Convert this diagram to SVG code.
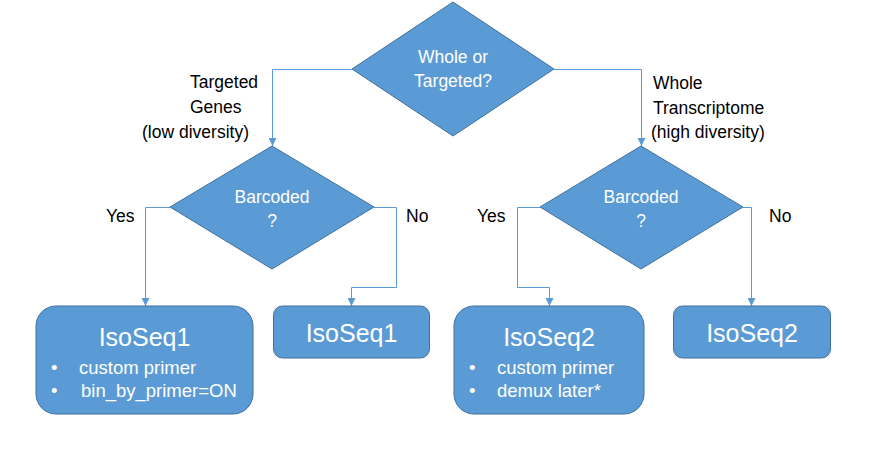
<svg xmlns="http://www.w3.org/2000/svg" width="890" height="449" viewBox="0 0 890 449">
<defs>
<marker id="arr" markerUnits="userSpaceOnUse" markerWidth="8" markerHeight="8" refX="8" refY="4" orient="auto">
<path d="M0,0 L8,4 L0,8 z" fill="#5B9BD5"/>
</marker>
<style>
.shape{fill:#5B9BD5;stroke:#41719C;stroke-width:1}
.wt{fill:#FFFFFF;font-family:"Liberation Sans",Arial,sans-serif;text-anchor:middle}
.dt{font-size:17.5px}
.big{font-size:25px}
.sm{font-size:18.5px;text-anchor:start}
.lbl{fill:#000000;font-family:"Liberation Sans",Arial,sans-serif;font-size:17.5px}
.con{fill:none;stroke:#5B9BD5;stroke-width:1;marker-end:url(#arr)}
</style>
</defs>
<rect width="890" height="449" fill="#FFFFFF"/>
<g id="connectors">
<path class="con" d="M352,69.5 H272.5 V146"/>
<path class="con" d="M554,69.5 H641.5 V146"/>
<path class="con" d="M170,207.5 H145.5 V306"/>
<path class="con" d="M374,207.5 H396.5 V287.5 H351.5 V306"/>
<path class="con" d="M540,207.5 H517.5 V287.5 H549.5 V306"/>
<path class="con" d="M743,207.5 H751.5 V306"/>
</g>
<g id="labels">
<text class="lbl" x="190" y="88">Targeted</text>
<text class="lbl" x="190" y="113">Genes</text>
<text class="lbl" x="142" y="138">(low diversity)</text>
<text class="lbl" x="653" y="89">Whole</text>
<text class="lbl" x="653" y="114">Transcriptome</text>
<text class="lbl" x="651" y="138">(high diversity)</text>
<text class="lbl" x="106" y="222">Yes</text>
<text class="lbl" x="406" y="222">No</text>
<text class="lbl" x="477" y="222">Yes</text>
<text class="lbl" x="769" y="222">No</text>
</g>
<g id="whole-or-targeted">
<polygon class="shape" points="453,2 554,69 453,136 352,69"/>
<text class="wt dt" x="453" y="63">Whole or</text>
<text class="wt dt" x="453" y="87">Targeted?</text>
</g>
<g id="barcoded-left">
<polygon class="shape" points="272,146 374,207 272,269 170,207"/>
<text class="wt dt" x="272" y="203">Barcoded</text>
<text class="wt dt" x="272" y="227">?</text>
</g>
<g id="barcoded-right">
<polygon class="shape" points="641,146 743,207 641,269 540,207"/>
<text class="wt dt" x="641" y="203">Barcoded</text>
<text class="wt dt" x="641" y="227">?</text>
</g>
<g id="isoseq1-barcoded">
<rect class="shape" x="36" y="306" width="217" height="108" rx="20" ry="20"/>
<text class="wt big" x="144.5" y="346">IsoSeq1</text>
<text class="wt sm" x="51" y="374">•</text>
<text class="wt sm" x="79" y="374">custom primer</text>
<text class="wt sm" x="51" y="397">•</text>
<text class="wt sm" x="81" y="397">bin_by_primer=ON</text>
</g>
<g id="isoseq1-plain">
<rect class="shape" x="273.5" y="306" width="156" height="52" rx="9" ry="9"/>
<text class="wt big" x="351.5" y="342">IsoSeq1</text>
</g>
<g id="isoseq2-barcoded">
<rect class="shape" x="454" y="306" width="190" height="108" rx="20" ry="20"/>
<text class="wt big" x="549" y="346">IsoSeq2</text>
<text class="wt sm" x="469" y="374">•</text>
<text class="wt sm" x="497" y="374">custom primer</text>
<text class="wt sm" x="469" y="397">•</text>
<text class="wt sm" x="497" y="397">demux later*</text>
</g>
<g id="isoseq2-plain">
<rect class="shape" x="673.5" y="306" width="157" height="52" rx="9" ry="9"/>
<text class="wt big" x="752" y="342">IsoSeq2</text>
</g>
</svg>
